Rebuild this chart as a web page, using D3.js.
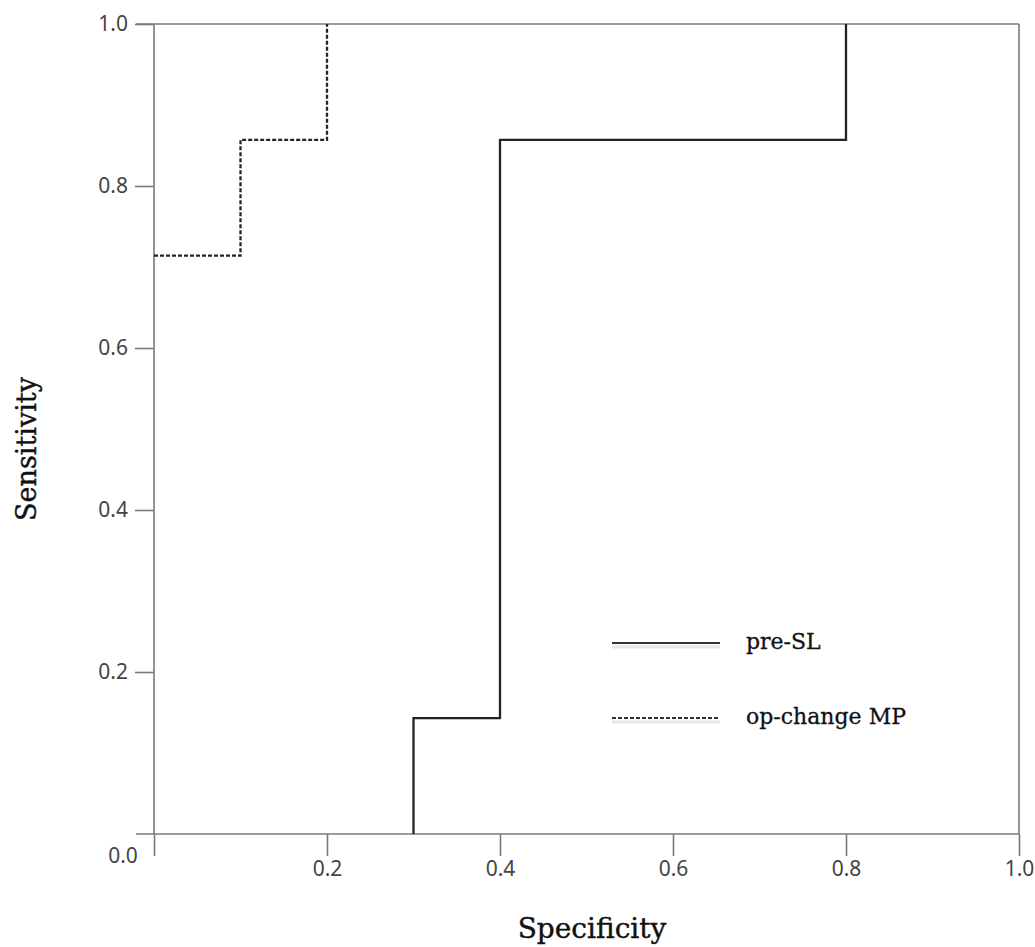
<!DOCTYPE html>
<html>
<head>
<meta charset="utf-8">
<script src="https://cdn.jsdelivr.net/npm/d3@7/dist/d3.min.js"></script>
<style>
  html, body { margin: 0; padding: 0; background: #fff; }
  svg { display: block; }
</style>
</head>
<body>
<svg id="chart" width="1035" height="947"></svg>
<script>
// ---- data ----
const xTicks = [0, 0.2, 0.4, 0.6, 0.8, 1.0];
const yTicks = [0.2, 0.4, 0.6, 0.8, 1.0];
const seriesNames = ["pre-SL", "op-change MP"];
// step-curve vertices (x: axis value, y: sensitivity)
const preSLx = [0.3, 0.3, 0.4, 0.4, 0.8, 0.8];
const preSLy = [0.0, 0.143, 0.143, 0.857, 0.857, 1.0];
const opMPx  = [0.0, 0.1, 0.1, 0.2, 0.2];
const opMPy  = [0.714, 0.714, 0.857, 0.857, 1.0];

const svg = d3.select("#chart");
const x = d3.scaleLinear().domain([0, 1]).range([154, 1019]);
const y = d3.scaleLinear().domain([0, 1]).range([834, 24]);

const axisColor = "#7a7a7a";
const textColor = "#444";
const tickFont = "'Noto Sans', 'Liberation Sans', sans-serif";
const serif = "'DejaVu Serif', 'Liberation Serif', serif";
const tickSize = 21;

// frame lines
const frame = svg.append("g").attr("stroke", axisColor).attr("stroke-width", 1.6).attr("fill", "none");
frame.append("line").attr("x1", 136).attr("x2", x(1)).attr("y1", y(0)).attr("y2", y(0));
frame.append("line").attr("x1", 136).attr("x2", x(1)).attr("y1", y(1)).attr("y2", y(1));
frame.append("line").attr("x1", x(0)).attr("x2", x(0)).attr("y1", y(1)).attr("y2", y(0));
frame.append("line").attr("x1", x(1)).attr("x2", x(1)).attr("y1", y(1)).attr("y2", y(0));

// x axis
const xAxis = d3.axisBottom(x).tickValues(xTicks).tickSize(22).tickSizeOuter(0).tickPadding(5)
  .tickFormat(d => d === 0 ? "" : d3.format(".1f")(d));
const gx = svg.append("g").attr("transform", `translate(0,${y(0)})`).call(xAxis);
gx.select(".domain").remove();
gx.selectAll(".tick line").attr("stroke", axisColor).attr("stroke-width", 1.6);
gx.selectAll(".tick text").attr("fill", textColor).attr("font-family", tickFont).attr("font-size", tickSize);

// y axis
const yAxis = d3.axisLeft(y).tickValues(yTicks).tickSize(19).tickSizeOuter(0).tickPadding(7)
  .tickFormat(d3.format(".1f"));
const gy = svg.append("g").attr("transform", `translate(${x(0)},0)`).call(yAxis);
gy.select(".domain").remove();
gy.selectAll(".tick line").attr("stroke", axisColor).attr("stroke-width", 1.6);
gy.selectAll(".tick text").attr("fill", textColor).attr("font-family", tickFont).attr("font-size", tickSize);

// corner 0.0 label
svg.append("text").attr("x", 123).attr("y", 856).attr("dy", "0.35em")
  .attr("text-anchor", "middle").attr("fill", textColor)
  .attr("font-family", tickFont).attr("font-size", tickSize).text(d3.format(".1f")(0));

// curves
const line = d3.line().x(d => x(d[0])).y(d => y(d[1]));
const preSL = preSLx.map((v, i) => [v, preSLy[i]]);
const opMP = opMPx.map((v, i) => [v, opMPy[i]]);

svg.append("path").datum(preSL).attr("d", line)
  .attr("fill", "none").attr("stroke", "#222").attr("stroke-width", 2.3);
svg.append("path").datum(opMP).attr("d", line)
  .attr("fill", "none").attr("stroke", "#222").attr("stroke-width", 2.3)
  .attr("stroke-dasharray", "4,2");

// legend
const legend = svg.append("g");
const legendRows = [
  { name: seriesNames[0], dash: null, ly: 643 },
  { name: seriesNames[1], dash: "4,2", ly: 718 }
];
legendRows.forEach(r => {
  legend.append("line").attr("x1", 612).attr("x2", 720).attr("y1", r.ly + 4).attr("y2", r.ly + 4)
    .attr("stroke", "#e6e6e6").attr("stroke-width", 3);
  legend.append("line").attr("x1", 612).attr("x2", 720).attr("y1", r.ly).attr("y2", r.ly)
    .attr("stroke", "#333").attr("stroke-width", 2)
    .attr("stroke-dasharray", r.dash);
  legend.append("text").attr("x", 746).attr("y", r.ly + 6)
    .attr("font-family", serif).attr("font-size", 22).attr("fill", "#111")
    .attr("stroke", "#111").attr("stroke-width", 0.3).text(r.name);
});

// axis titles
svg.append("text").attr("x", 592).attr("y", 938).attr("text-anchor", "middle")
  .attr("font-family", serif).attr("font-size", 28).attr("fill", "#111")
  .attr("stroke", "#111").attr("stroke-width", 0.4).text("Specificity");
svg.append("text").attr("transform", "translate(36,449) rotate(-90)").attr("text-anchor", "middle")
  .attr("font-family", serif).attr("font-size", 27).attr("fill", "#111")
  .attr("stroke", "#111").attr("stroke-width", 0.4).text("Sensitivity");
</script>
</body>
</html>
